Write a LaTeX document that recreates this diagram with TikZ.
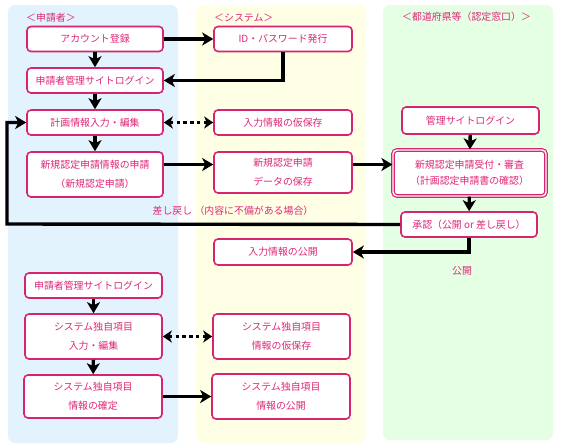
\documentclass[tikz,border=0pt]{standalone}
\usepackage{fontspec}
\setmainfont{Noto Sans CJK JP}
\usetikzlibrary{arrows.meta,calc}
\definecolor{pinkline}{RGB}{214,36,110}
\definecolor{pinktext}{RGB}{222,40,120}
\definecolor{bgblue}{RGB}{226,243,254}
\definecolor{bgyellow}{RGB}{255,255,229}
\definecolor{bggreen}{RGB}{228,255,228}
\tikzset{
	box/.style={draw=pinkline, line width=1.6pt, rounded corners=4pt, fill=white, text=pinktext, align=center, inner sep=0pt, minimum width=136pt, minimum height=25pt, font=\fontsize{9.9}{19}\selectfont},
	dbox/.style={box, line width=1.2pt, double=white, double distance=1.4pt},
	flow/.style={line width=3.4pt, -{Stealth[length=11pt,width=13pt,inset=3pt]}},
	dflow/.style={line width=3.4pt, dash pattern=on 3.4pt off 3.4pt, {Stealth[length=9pt,width=12pt,inset=2.5pt]}-{Stealth[length=9pt,width=12pt,inset=2.5pt]}},
	panel/.style={rounded corners=7pt},
	lbl/.style={text=pinktext, inner sep=0pt, font=\fontsize{9.9}{12}\selectfont}
}

\begin{document}
\begin{tikzpicture}[x=1pt, y=-1pt]
	
	\useasboundingbox (0,0) rectangle (561,447);
	\fill[bgblue, panel] (8,5) rectangle (178,443);
	\fill[bgyellow, panel] (196,5) rectangle (366,443);
	\fill[bggreen, panel] (383,5) rectangle (553,440);
	
	\node[lbl, anchor=west] (hdapp) at (26,18) {＜申請者＞};
	\node[lbl, anchor=west] (hdsys) at (214,18) {＜システム＞};
	\node[lbl, anchor=west] (hdpref) at (402,17) {＜都道府県等（認定窓口）＞};
	
	\node[box] (acct) at (95,39) {アカウント登録};
	\node[box] (login) at (95,80.5) {申請者管理サイトログイン};
	\node[box] (edit) at (95,122.5) {計画情報入力・編集};
	\node[box, minimum height=45pt] (apply) at (95,174.5) {新規認定申請情報の申請\\（新規認定申請）};
	
	\node[box, minimum width=138pt] (idpw) at (283,39) {ID・パスワード発行};
	\node[box, minimum width=138pt] (tmpsave) at (283,122.5) {入力情報の仮保存};
	\node[box, minimum width=138pt, minimum height=41pt] (datasave) at (283,172.5) {新規認定申請\\データの保存};
	\node[box, minimum width=138pt, minimum height=26pt] (publish) at (283,252) {入力情報の公開};
	
	\node[box, minimum width=137pt, minimum height=27pt] (mlogin) at (470.5,120.5) {管理サイトログイン};
	\node[dbox, minimum width=153pt, minimum height=46pt, font=\fontsize{9.9}{16}\selectfont] (review) at (469.5,173) {新規認定申請受付・審査\\（計画認定申請書の確認）};
	\node[box] (approve) at (469,224.5) {承認（公開 or 差し戻し）};
	
	\node[box, minimum width=137pt] (login2) at (93.5,285.5) {申請者管理サイトログイン};
	\node[box, minimum width=137pt, minimum height=45pt] (sysedit) at (93.5,336.5) {システム独自項目\\入力・編集};
	\node[box, minimum width=138pt, minimum height=43pt] (sysfix) at (93,396.5) {システム独自項目\\情報の確定};
	\node[box, minimum width=137pt, minimum height=45pt] (systmp) at (281.5,336.5) {システム独自項目\\情報の仮保存};
	\node[box, minimum width=138pt, minimum height=45pt] (syspub) at (281,396.5) {システム独自項目\\情報の公開};
	
	\node[lbl] (backlbl) at (233,211) {差し戻し （内容に不備がある場合）};
	\node[lbl] (publbl) at (462,271) {公開};
	
	\coordinate (rowa) at (0,164.5);
	\coordinate (back) at (7,224);
	
	\draw[flow] (acct) -- (idpw);
	\draw[flow] (acct) -- (login);
	\draw[flow] (idpw.south) |- (login.east);
	\draw[flow] (login) -- (edit);
	\draw[dflow] (edit) -- (tmpsave);
	\draw[flow] (edit) -- (apply);
	\draw[flow] (apply.east |- rowa) -- (datasave.west |- rowa);
	\draw[flow] (datasave.east |- rowa) -- (review.west |- rowa);
	\draw[flow] (mlogin) -- (review);
	\draw[flow] (review) -- (approve);
	\draw[flow] (approve.west) -- (back) |- (edit.west);
	\draw[flow] (approve.south) |- (publish.east);
	
	\draw[flow] (login2) -- (sysedit);
	\draw[dflow] (sysedit) -- (systmp);
	\draw[flow] (sysedit) -- (sysfix);
	\draw[flow] (sysfix) -- (syspub);
\end{tikzpicture}
\end{document}
